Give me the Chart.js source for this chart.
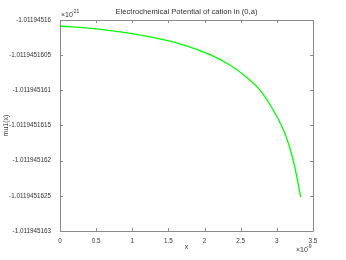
<!DOCTYPE html>
<html>
<head>
<meta charset="utf-8">
<script src="https://cdn.jsdelivr.net/npm/chart.js@4"></script>
<style>
  html, body { margin: 0; padding: 0; background: #fff; }
  #wrap { width: 346px; height: 260px; }
</style>
</head>
<body>
<div id="wrap"><canvas id="c" width="346" height="260"></canvas></div>
<script>
// Data (x in units of 1e-9)
const xValues = [0, 0.5, 1.0, 1.52, 1.80, 2.07, 2.35, 2.59, 2.77, 2.95, 3.09, 3.18, 3.25, 3.33];
const muValues = [
    -1.011945160085, -1.011945160125, -1.011945160195, -1.011945160300,
    -1.011945160385, -1.011945160490, -1.011945160640, -1.011945160820,
    -1.011945161000, -1.011945161280, -1.011945161560, -1.011945161820,
    -1.011945162100, -1.011945162520
];
const xTicks = [0, 0.5, 1, 1.5, 2, 2.5, 3, 3.5];
const yTicks = [-1.011945163, -1.0119451625, -1.011945162, -1.0119451615, -1.011945161, -1.0119451605, -1.01194516];
const yTickLabels = ['-1.011945163', '-1.0119451625', '-1.011945162', '-1.0119451615', '-1.011945161', '-1.0119451605', '-1.01194516'];
const xTickLabels = ['0', '0.5', '1', '1.5', '2', '2.5', '3', '3.5'];

const FONT = 'Liberation Sans, Arial, sans-serif';
const AXIS = '#8a8a8a';
const TEXT = '#303030';

// Box, inner tick marks and extra texts (octave style)
const decor = {
    id: 'decor',
    afterDraw(chart) {
        const ctx = chart.ctx;
        const a = chart.chartArea;
        const xs = chart.scales.x, ys = chart.scales.y;
        ctx.save();
        ctx.strokeStyle = AXIS;
        ctx.lineWidth = 1;
        ctx.beginPath();
        ctx.rect(Math.round(a.left) + 0.5, Math.round(a.top) + 0.5,
                 Math.round(a.right - a.left), Math.round(a.bottom - a.top));
        xTicks.forEach(v => {
            const px = Math.round(xs.getPixelForValue(v)) + 0.5;
            ctx.moveTo(px, a.bottom); ctx.lineTo(px, a.bottom - 3);
            ctx.moveTo(px, a.top); ctx.lineTo(px, a.top + 3);
        });
        yTicks.forEach(v => {
            const py = Math.round(ys.getPixelForValue(v)) + 0.5;
            ctx.moveTo(a.left, py); ctx.lineTo(a.left + 3, py);
            ctx.moveTo(a.right, py); ctx.lineTo(a.right - 3, py);
        });
        ctx.stroke();

        ctx.fillStyle = TEXT;
        ctx.textAlign = 'center';
        ctx.textBaseline = 'middle';
        ctx.font = '7.6px ' + FONT;
        ctx.fillText('Electrochemical Potential of cation in (0,a)', (a.left + a.right) / 2, 12);
        ctx.font = '7px ' + FONT;
        ctx.fillText('x', (a.left + a.right) / 2, 247);
        ctx.save();
        ctx.translate(6, (a.top + a.bottom) / 2);
        ctx.rotate(-Math.PI / 2);
        ctx.fillText('mu1(x)', 0, 0);
        ctx.restore();

        // exponent labels
        ctx.textAlign = 'left';
        ctx.font = '7px ' + FONT;
        ctx.fillText('\u00d710', 61, 15);
        ctx.font = '5px ' + FONT;
        ctx.fillText('-21', 72, 12);
        ctx.font = '7px ' + FONT;
        ctx.fillText('\u00d710', 296, 250);
        ctx.font = '5px ' + FONT;
        ctx.fillText('-9', 307, 247);
        ctx.restore();
    }
};

new Chart(document.getElementById('c'), {
    type: 'line',
    data: {
        datasets: [{
            data: xValues.map((x, i) => ({ x: x, y: muValues[i] })),
            borderColor: '#00ff00',
            borderWidth: 1.3,
            pointRadius: 0,
            tension: 0.35,
            fill: false
        }]
    },
    options: {
        responsive: false,
        animation: false,
        layout: { padding: { top: 20, right: 33, left: 0, bottom: 0 } },
        plugins: { legend: { display: false }, tooltip: { enabled: false }, title: { display: false } },
        scales: {
            x: {
                type: 'linear',
                min: 0,
                max: 3.5,
                afterBuildTicks: s => { s.ticks = xTicks.map(v => ({ value: v })); },
                afterFit: s => { s.height = 29; },
                grid: { display: false, drawTicks: false },
                border: { display: false },
                ticks: {
                    color: TEXT,
                    font: { size: 6.3, family: FONT },
                    padding: 6,
                    maxRotation: 0,
                    callback: (v, i) => xTickLabels[i]
                }
            },
            y: {
                type: 'linear',
                min: yTicks[0],
                max: yTicks[yTicks.length - 1],
                afterBuildTicks: s => { s.ticks = yTicks.map(v => ({ value: v })); },
                afterFit: s => { s.width = 60; },
                grid: { display: false, drawTicks: false },
                border: { display: false },
                ticks: {
                    color: TEXT,
                    font: { size: 6.3, family: FONT },
                    padding: 9,
                    callback: (v, i) => yTickLabels[i]
                }
            }
        }
    },
    plugins: [decor]
});
</script>
</body>
</html>
